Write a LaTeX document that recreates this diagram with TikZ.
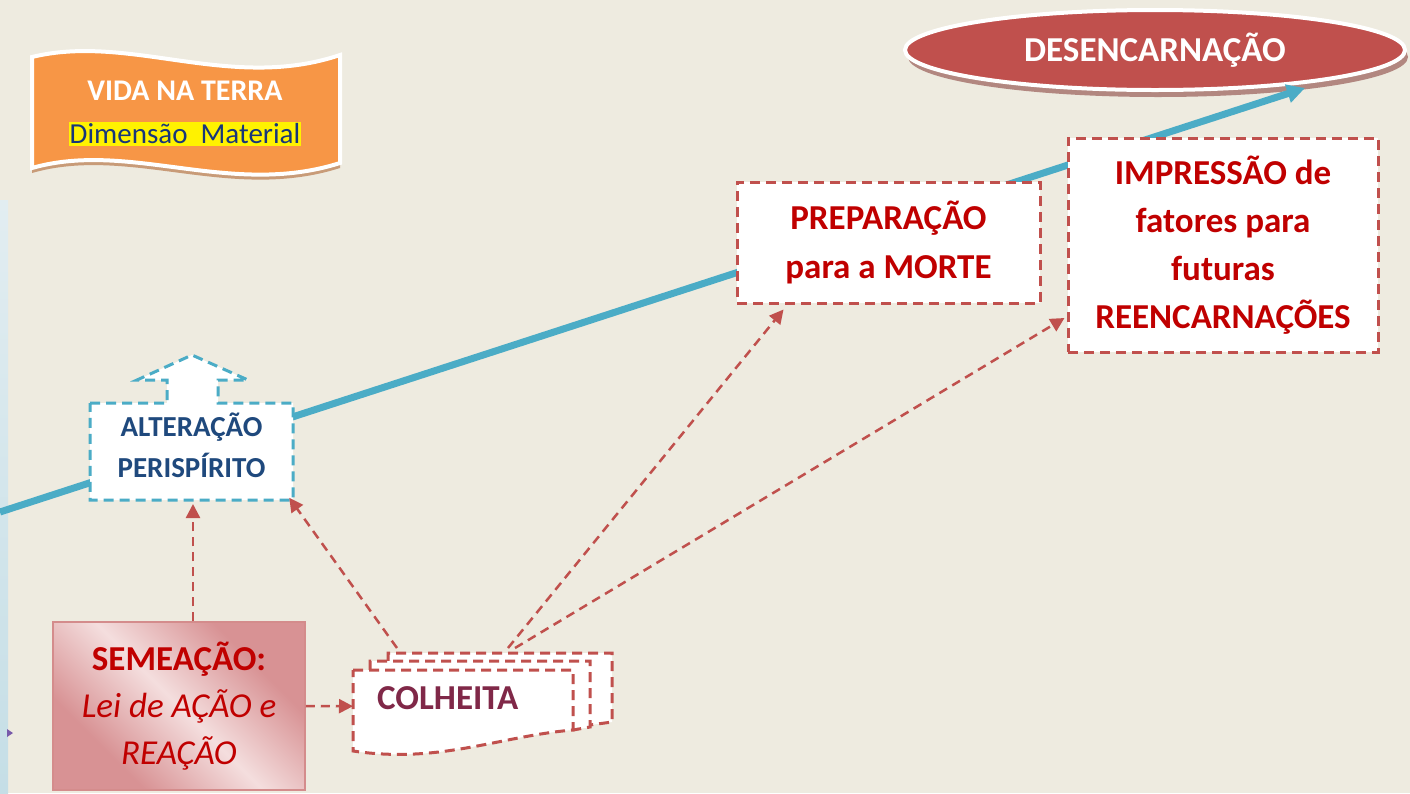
\documentclass[tikz,border=0pt]{standalone}
\usepackage{fontspec}
\setmainfont{Carlito}
\usetikzlibrary{arrows.meta,shapes.geometric,calc}
\definecolor{bg}{RGB}{238,235,224}
\definecolor{orng}{RGB}{247,150,70}
\definecolor{orsh}{RGB}{200,155,120}
\definecolor{accblue}{RGB}{75,172,198}
\definecolor{accred}{RGB}{192,80,77}
\definecolor{txtred}{RGB}{192,0,0}
\definecolor{navy}{RGB}{31,73,125}
\definecolor{dblue}{RGB}{23,54,123}
\definecolor{maroon}{RGB}{128,40,72}
\definecolor{semdark}{RGB}{216,146,148}
\definecolor{semlight}{RGB}{244,222,222}
\definecolor{semborder}{RGB}{212,140,140}
\definecolor{ellsh}{RGB}{178,135,128}
\definecolor{strtop}{RGB}{226,237,241}
\definecolor{strbot}{RGB}{197,222,230}
\definecolor{purp}{RGB}{120,90,170}
\pgfdeclarehorizontalshading{semsh}{100bp}{color(0bp)=(semdark); color(30bp)=(semdark); color(50bp)=(semlight); color(70bp)=(semdark); color(100bp)=(semdark)}
\tikzset{
  redbox/.style={draw=accred, fill=white, line width=3pt, dash pattern=on 10pt off 6pt, inner sep=0pt},
  redtxt/.style={text=txtred, align=center, font=\fontsize{35}{48}\selectfont\bfseries},
  redarrow/.style={draw=accred, line width=2.5pt, dash pattern=on 9pt off 6pt, -{Triangle[length=14pt,width=14pt]}},
  docpart/.style={draw=accred, fill=white, line width=3pt, dash pattern=on 10pt off 6pt},
}
\begin{document}
\begin{tikzpicture}[x=1pt,y=-1pt]
\useasboundingbox (0,0) rectangle (1410,793);
\fill[bg] (0,0) rectangle (1410,793);
% left strip
\shade[top color=strtop, bottom color=strbot] (0,200) rectangle (8,793);
\fill[purp] (7,729) -- (13,733) -- (7,737) -- cycle;
% banner
\path[fill=orsh, shift={(0,5)}] (32,57) .. controls (130,33) and (230,92) .. (340,55) -- (340,163) .. controls (230,198) and (130,140) .. (32,168) -- cycle;
\path[fill=orng, draw=white, line width=4pt] (32,57) .. controls (130,33) and (230,92) .. (340,55) -- (340,163) .. controls (230,198) and (130,140) .. (32,168) -- cycle;
\node[text=white, font=\fontsize{30}{34}\selectfont\bfseries] (vida) at (185,91) {VIDA NA TERRA};
\node[fill=yellow, inner xsep=1pt, inner ysep=2pt, text=dblue, font=\fontsize{29}{32}\selectfont] (dim) at (185,134) {Dimensão\ \ Material};
% ellipse
\fill[ellsh] (1158,57) ellipse [x radius=250, y radius=40];
\node[ellipse, fill=accred, draw=white, line width=4pt, minimum width=500pt, minimum height=80pt, text=white, font=\fontsize{35}{40}\selectfont\bfseries] (desen) at (1155,50) {DESENCARNAÇÃO};
% blue line
\coordinate (start) at (0,512);
\coordinate (tip) at (1305,88);
\draw[accblue, line width=7pt, -{Triangle[length=18pt,width=18pt]}] (start) -- (tip);
% alteracao callout
\path[fill=white, draw=accblue, line width=3pt, dash pattern=on 10pt off 6pt] (90,403) -- (167,403) -- (167,380) -- (137,380) -- (192,355) -- (248,380) -- (218,380) -- (218,403) -- (293,403) -- (293,500) -- (90,500) -- cycle;
\node[minimum width=203pt, minimum height=97pt, inner sep=0pt, text=navy, align=center, font=\fontsize{29}{41}\selectfont\bfseries] (alt) at (191.5,445) {ALTERAÇÃO\\PERISPÍRITO};
\coordinate (altbot) at (193,500);
% preparacao
\node[redbox, redtxt, minimum width=303pt, minimum height=121pt] (prep) at (888.5,242.5) {PREPARAÇÃO\\para a MORTE};
% impressao
\node[redbox, redtxt, minimum width=310pt, minimum height=214pt] (impr) at (1223,245) {IMPRESSÃO de\\fatores para\\futuras\\REENCARNAÇÕES};
% semeacao
\node[draw=semborder, line width=1.5pt, shading=semsh, shading angle=45, minimum width=252pt, minimum height=168pt, inner sep=0pt, text=txtred, align=center, font=\fontsize{35}{47}\selectfont] (seme) at (179,706) {{\bfseries SEMEAÇÃO:}\\{\itshape Lei de AÇÃO e}\\{\itshape REAÇÃO}};
% colheita multi-document
\path[docpart] (388,661) -- (388,653) -- (612,653) -- (612,722) -- (590,725);
\path[docpart] (370,670) -- (370,661) -- (590,661) -- (590,727) -- (573,730);
\path[docpart] (353,670) -- (573,670) -- (573,730) .. controls (500,736) and (440,764) .. (353,751) -- cycle;
\node[anchor=north west, minimum width=220pt, minimum height=56pt, inner xsep=24pt, inner ysep=0pt, text width=172pt, align=left, text=maroon, font=\fontsize{35}{40}\selectfont\bfseries] (colh) at (353,670) {COLHEITA};
% connectors
\draw[redarrow] ($(seme.north)+(14,0)$) -- ($(altbot)+(0,4)$);
\draw[redarrow] (seme.east) -- ($(colh.west)+(0,8)$);
\draw[redarrow] ($(colh.north west)+(44,-22)$) -- ($(alt.south east)+(-4,4)$);
\draw[redarrow] ($(colh.north west)+(155,-22)$) -- ($(prep.south west)+(48,5)$);
\draw[redarrow] ($(colh.north west)+(162,-22)$) -- ($(impr.west)+(-2,73)$);
\end{tikzpicture}
\end{document}
